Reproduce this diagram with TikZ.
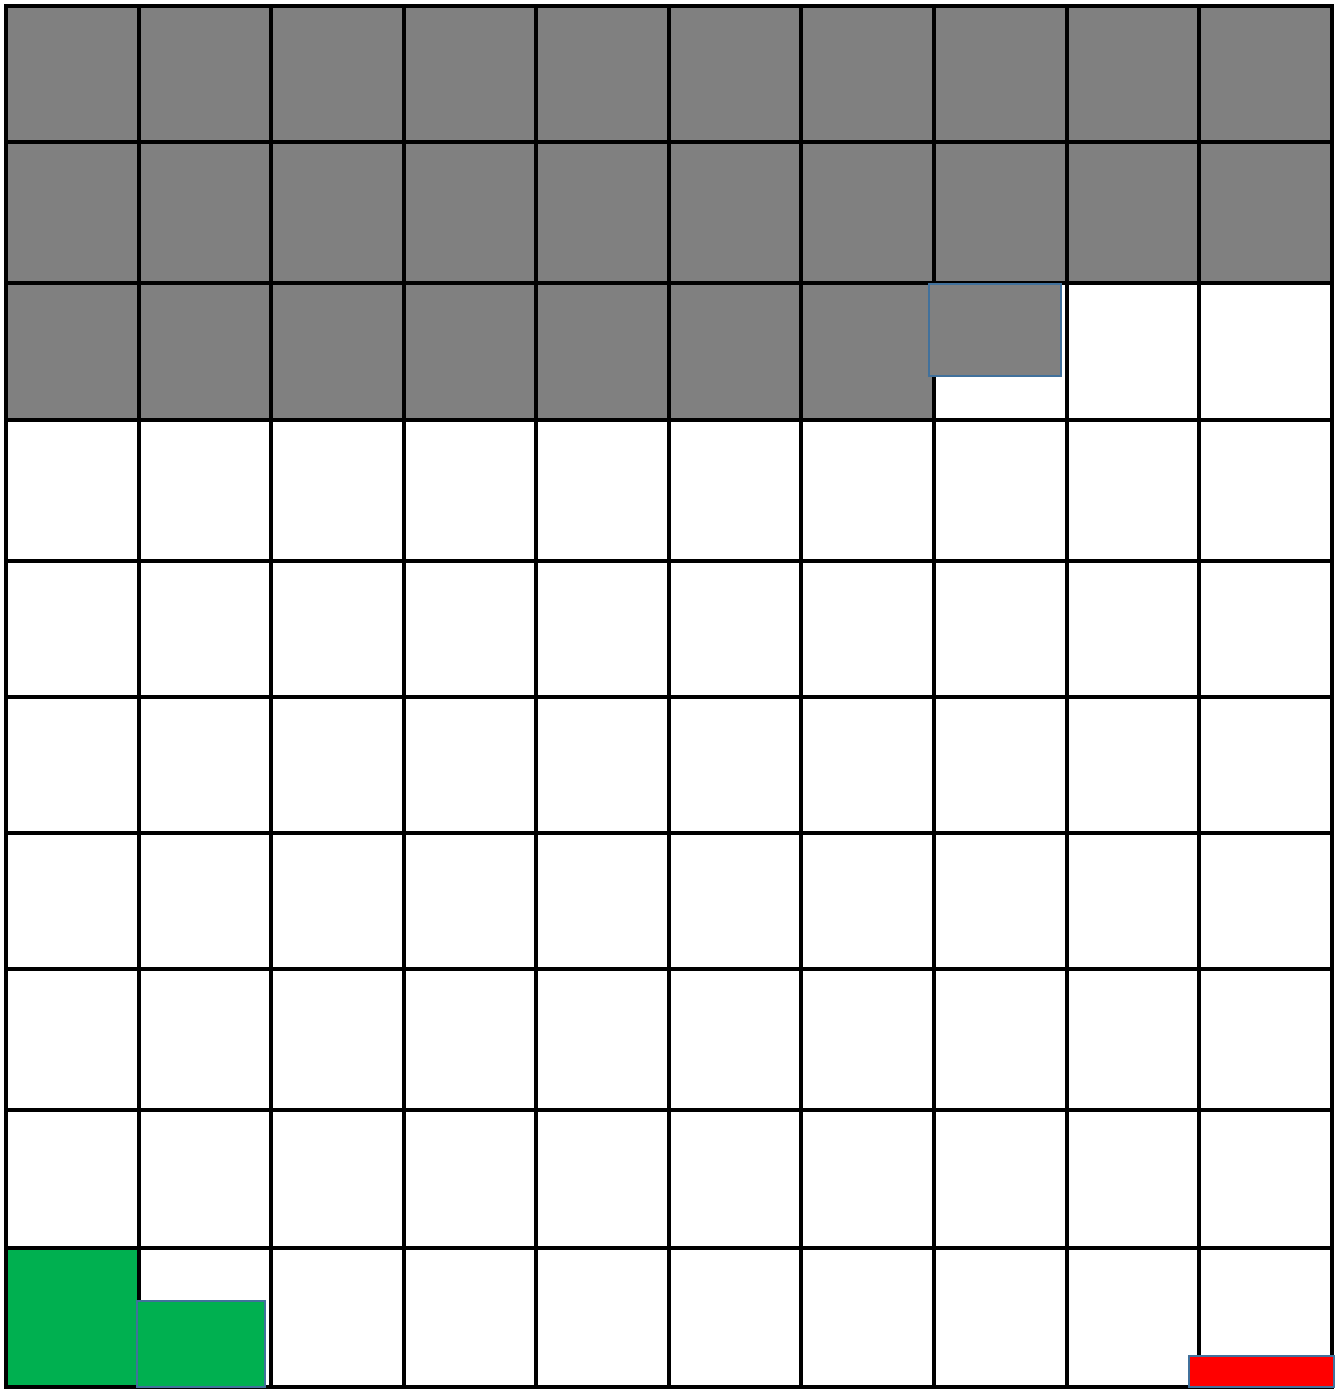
\documentclass[tikz,border=0pt]{standalone}
\usepackage{xcolor}
\definecolor{cellgray}{HTML}{808080}
\definecolor{cellgreen}{HTML}{00B050}
\definecolor{markerblue}{HTML}{41719C}

\begin{document}
\begin{tikzpicture}[x=0.01cm, y=-0.01cm,
    gridline/.style={draw=black, line width=0.9pt, line cap=rect},
    marker/.style={draw=markerblue, line width=0.7pt}]
    \useasboundingbox (0,0) rectangle (1339,1389);
    \fill[white] (0,0) rectangle (1339,1389);
    % filled cells
    \fill[cellgray] (6,6) rectangle (1332,283);
    \fill[cellgray] (6,283) rectangle (934,420);
    \fill[cellgreen] (6,1248) rectangle (139,1387);
    % grid
    \foreach \x in {6,139,271,404,536,669,801,934,1067,1199,1332}
        \draw[gridline] (\x,6) -- (\x,1387);
    \foreach \y in {6,142,283,420,561,697,833,969,1110,1248,1387}
        \draw[gridline] (6,\y) -- (1332,\y);
    % markers on top
    \filldraw[marker, fill=cellgray] (929,284) rectangle (1061,376);
    \filldraw[marker, fill=cellgreen] (137,1301) rectangle (265,1387);
    \filldraw[marker, fill=red] (1189,1356) rectangle (1334,1387);
\end{tikzpicture}
\end{document}
